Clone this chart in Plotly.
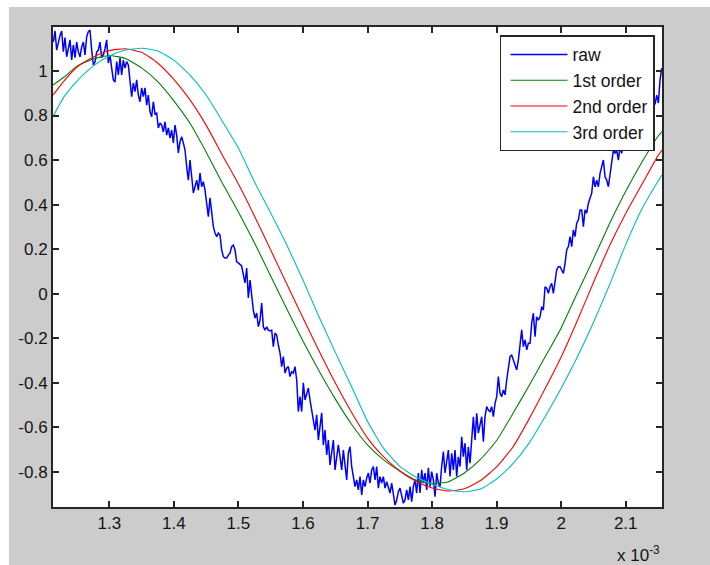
import numpy as np
import plotly.graph_objects as go

# ---- raw signal: uniformly sampled, time in ms ----
raw_t0 = 1.21332
raw_dt = 0.002582
raw_v = [
    1.13, 1.18, 1.094, 1.13, 1.16, 1.18, 1.087, 1.15, 1.064, 1.10,
    1.14, 1.05, 1.117, 1.06, 1.13, 1.087, 1.064, 1.108, 1.13, 1.072,
    1.154, 1.177, 1.184, 1.094, 1.027, 1.04, 1.085, 1.094, 1.13, 1.06,
    1.072, 1.10, 1.14, 1.036, 1.072, 1.013, 0.96, 0.95, 1.042, 0.982,
    1.058, 0.982, 1.049, 1.013, 1.042, 1.027, 0.937, 0.885, 0.946, 0.907,
    0.96, 0.892, 0.862, 0.924, 0.885, 0.924, 0.847, 0.892, 0.817, 0.795,
    0.862,
    0.807, 0.811, 0.744, 0.766, 0.757, 0.727, 0.772, 0.712, 0.744, 0.699,
    0.735, 0.677, 0.757, 0.712, 0.632, 0.682, 0.705, 0.677, 0.645, 0.570,
    0.510, 0.600, 0.525, 0.452, 0.480, 0.510, 0.465, 0.542, 0.480, 0.503,
    0.465, 0.390, 0.346, 0.430, 0.362, 0.301, 0.272, 0.256, 0.272, 0.263,
    0.196, 0.166, 0.160, 0.160, 0.173, 0.182, 0.211, 0.218, 0.196, 0.143,
    0.138, 0.129, 0.124, 0.084, 0.048, 0.115, -0.020, 0.061, -0.014,
    -0.074, -0.110, -0.087, -0.149, -0.119, -0.042, -0.149, -0.164, -0.149, -0.164,
    -0.168, -0.164, -0.238, -0.177, -0.186, -0.231, -0.267, -0.328, -0.283, -0.357,
    -0.335, -0.328, -0.373, -0.351, -0.357, -0.328, -0.388, -0.530, -0.463, -0.530,
    -0.401, -0.478, -0.446, -0.424, -0.478, -0.536, -0.568,
    -0.613, -0.545, -0.658, -0.590, -0.536, -0.680, -0.613, -0.725, -0.658, -0.770,
    -0.703, -0.658, -0.792, -0.725, -0.680,
    -0.733, -0.792, -0.703, -0.777, -0.837, -0.716, -0.688, -0.777, -0.822, -0.867,
    -0.837, -0.882, -0.822, -0.905, -0.837, -0.867, -0.828, -0.806, -0.851, -0.792,
    -0.777, -0.837, -0.777, -0.874, -0.822, -0.851, -0.822, -0.874, -0.845, -0.867,
    -0.896, -0.851, -0.912, -0.950, -0.927, -0.890, -0.874, -0.905, -0.942, -0.927,
    -0.882, -0.927, -0.867, -0.935, -0.867, -0.837, -0.896, -0.806, -0.896, -0.792,
    -0.851, -0.806, -0.882, -0.783, -0.867, -0.800, -0.837, -0.912, -0.806, -0.851,
    -0.867, -0.777, -0.710, -0.806, -0.748, -0.703, -0.822, -0.717, -0.792, -0.703,
    -0.822, -0.733, -0.777, -0.643, -0.733, -0.672, -0.792, -0.688, -0.762, -0.627,
    -0.553, -0.658, -0.538, -0.627, -0.583, -0.553, -0.665, -0.553, -0.508, -0.523,
    -0.530, -0.508, -0.553, -0.493, -0.463, -0.373, -0.448, -0.463, -0.433, -0.455,
    -0.388, -0.343, -0.283, -0.276, -0.298, -0.328, -0.343, -0.298, -0.223, -0.163,
    -0.238, -0.208, -0.253, -0.223,
    -0.223, -0.133, -0.088, -0.194, -0.104, -0.119, -0.104, -0.059, -0.074, 0.031,
    0.024, 0.001, 0.031, 0.046, 0.001, 0.054, 0.106, 0.121, 0.121, 0.106,
    0.091, 0.136, 0.196, 0.211, 0.256, 0.211, 0.286, 0.256, 0.316, 0.331,
    0.376, 0.376, 0.301, 0.376, 0.361, 0.406, 0.435, 0.451, 0.525, 0.480,
    0.510, 0.480, 0.540, 0.570, 0.600, 0.525, 0.510, 0.480, 0.540, 0.585,
    0.645, 0.630, 0.645,
    0.60, 0.66, 0.63, 0.68, 0.66, 0.71, 0.68, 0.72, 0.70, 0.75,
    0.72, 0.77, 0.75, 0.79, 0.77, 0.81, 0.79, 0.83, 0.81, 0.85,
    0.83, 0.87, 0.85,
    0.892, 0.856, 0.96, 1.013,
]
raw_t = raw_t0 + raw_dt * np.arange(len(raw_v))

# ---- filtered outputs, time in ms ----
filt_t = [1.2128, 1.23, 1.25, 1.275, 1.3, 1.325, 1.35, 1.375, 1.4, 1.425,
          1.45, 1.475, 1.5, 1.525, 1.55, 1.575, 1.6, 1.625, 1.65, 1.675,
          1.7, 1.725, 1.75, 1.775, 1.8, 1.825, 1.85, 1.875, 1.9, 1.925,
          1.95, 1.975, 2.0, 2.025, 2.05, 2.075, 2.1, 2.125, 2.15, 2.1562]
order1 = [0.937, 0.973, 1.022, 1.054, 1.070, 1.056, 1.014, 0.952, 0.866, 0.765,
          0.636, 0.497, 0.367, 0.227, 0.079, -0.069, -0.213, -0.348, -0.473, -0.586,
          -0.680, -0.747, -0.797, -0.838, -0.853, -0.846, -0.806, -0.745, -0.660, -0.540,
          -0.415, -0.285, -0.154, 0.003, 0.156, 0.315, 0.460, 0.590, 0.707, 0.728]
order2 = [0.892, 0.956, 1.018, 1.062, 1.092, 1.100, 1.084, 1.036, 0.962, 0.870,
          0.757, 0.623, 0.492, 0.348, 0.196, 0.043, -0.109, -0.258, -0.401, -0.532,
          -0.649, -0.734, -0.797, -0.843, -0.873, -0.887, -0.877, -0.840, -0.778, -0.690,
          -0.565, -0.428, -0.285, -0.122, 0.050, 0.215, 0.360, 0.490, 0.620, 0.645]
order3 = [0.795, 0.885, 0.955, 1.022, 1.067, 1.094, 1.102, 1.090, 1.049, 0.982,
          0.892, 0.775, 0.654, 0.501, 0.362, 0.218, 0.061, -0.105, -0.263, -0.416,
          -0.574, -0.695, -0.776, -0.824, -0.856, -0.880, -0.890, -0.878, -0.833, -0.765,
          -0.673, -0.553, -0.425, -0.285, -0.130, 0.040, 0.220, 0.380, 0.505, 0.533]

series_names = ["raw", "1st order", "2nd order", "3rd order"]
series_colors = ["#0000ff", "#008000", "#ff0000", "#00bfbf"]

x_ticks = [1.3, 1.4, 1.5, 1.6, 1.7, 1.8, 1.9, 2.0, 2.1]
x_tick_text = ["1.3", "1.4", "1.5", "1.6", "1.7", "1.8", "1.9", "2", "2.1"]
y_ticks = [-0.8, -0.6, -0.4, -0.2, 0, 0.2, 0.4, 0.6, 0.8, 1]
y_tick_text = ["-0.8", "-0.6", "-0.4", "-0.2", "0", "0.2", "0.4", "0.6", "0.8", "1"]

FONT = "Liberation Sans, Arial, sans-serif"

fig = go.Figure()
fig.add_trace(go.Scatter(x=raw_t, y=raw_v, mode="lines", name=series_names[0],
                         line=dict(color=series_colors[0], width=1.5), legendgroup="a"))
for name, col, vals, grp in zip(series_names[1:], series_colors[1:],
                                [order1, order2, order3], ["b", "c", "d"]):
    fig.add_trace(go.Scatter(x=filt_t, y=vals, mode="lines", name=name,
                             line=dict(color=col, width=1.1, shape="spline", smoothing=0.5),
                             legendgroup=grp))

axis_common = dict(showline=True, linecolor="#262626", linewidth=2, mirror="ticks",
                   ticks="inside", ticklen=6, tickwidth=1.5, tickcolor="#262626",
                   showgrid=False, zeroline=False,
                   tickfont=dict(family=FONT, size=17, color="#141414"))

fig.update_xaxes(range=[1.2128, 2.1562], tickvals=x_ticks, ticktext=x_tick_text, **axis_common)
fig.update_yaxes(range=[-0.9587, 1.1977], tickvals=y_ticks, ticktext=y_tick_text, **axis_common)

fig.update_layout(
    width=710, height=565, autosize=False,
    margin=dict(l=53, r=48, t=27, b=58),
    paper_bgcolor="white", plot_bgcolor="white",
    showlegend=True,
    legend=dict(x=0.9885, y=0.983, xanchor="right", yanchor="top",
                bgcolor="white", bordercolor="#262626", borderwidth=1.5,
                font=dict(family=FONT, size=17.5, color="#141414"),
                itemwidth=57, indentation=4, tracegroupgap=6, traceorder="normal"),
    shapes=[
        dict(type="rect", xref="paper", yref="paper", x0=-0.0723, x1=1.08, y0=-0.13, y1=1.0417,
             fillcolor="#cccccc", line=dict(width=0), layer="below"),
        dict(type="rect", xref="paper", yref="paper", x0=0, x1=1, y0=0, y1=1,
             fillcolor="white", line=dict(width=0), layer="below"),
    ],
    annotations=[
        dict(text="x 10<sup>-3</sup>", xref="paper", yref="paper", x=1.0, y=-0.098,
             xanchor="right", yanchor="middle", showarrow=False,
             font=dict(family=FONT, size=17, color="#141414")),
    ],
)

fig.write_html("out.html")
